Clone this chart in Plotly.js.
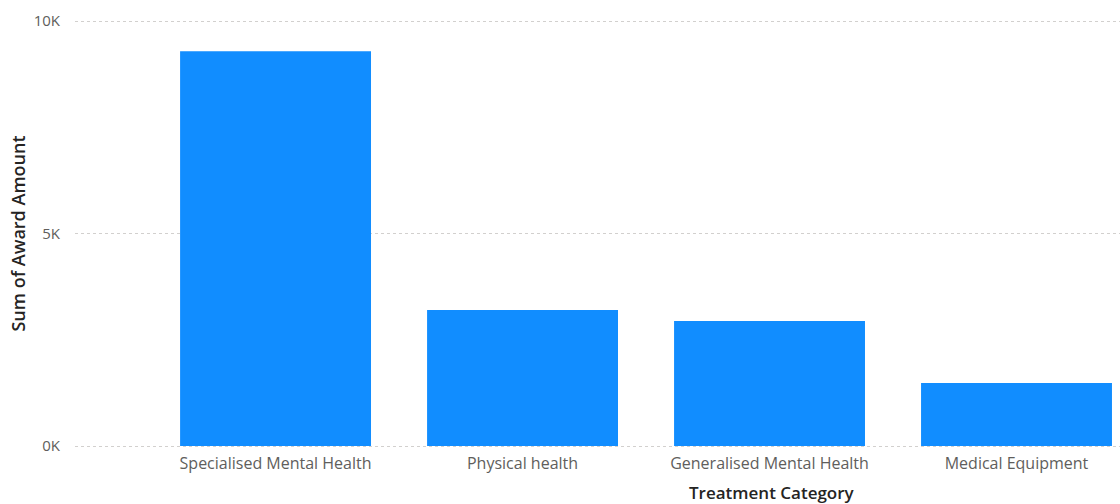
<!DOCTYPE html>
<html><head><meta charset="utf-8">
<script src="https://cdn.plot.ly/plotly-3.0.1.min.js"></script>
<style>html,body{margin:0;padding:0;background:#fff}#c{width:1120px;height:504px}</style>
</head><body><div id="c"></div>
<script>
const categories = ["Specialised Mental Health", "Physical health", "Generalised Mental Health", "Medical Equipment"];
const awardAmounts = [9290, 3200, 2940, 1480];
const yTickVals = [0, 5000, 10000];
const yTickText = ["0K", "5K", "10K"];

const trace = {
  type: 'bar', x: categories, y: awardAmounts,
  marker: {color: '#118DFF'}, hoverinfo: 'x+y'
};
const layout = {
  width: 1120, height: 504,
  margin: {l: 75, r: 0, t: 19, b: 56},
  paper_bgcolor: '#fff', plot_bgcolor: '#fff',
  bargap: 0.227,
  showlegend: false,
  font: {family: 'Open Sans, sans-serif', color: '#605E5C'},
  xaxis: {
    type: 'category', range: [-0.812, 3.419],
    showgrid: false, zeroline: false, showline: false, ticks: '',
    tickfont: {size: 16, color: '#605E5C'}, ticklabelstandoff: 4
  },
  yaxis: {
    range: [-47, 10047], tickvals: yTickVals, ticktext: yTickText,
    showgrid: true, gridcolor: '#D2D0CE', griddash: 'dot', gridwidth: 1,
    zeroline: false, showline: false, ticks: '',
    tickfont: {size: 15, color: '#605E5C'}, ticklabelstandoff: 14,
    title: {text: 'Sum of Award Amount', font: {size: 18, weight: 600, color: '#252423', family: 'Open Sans, sans-serif'}, standoff: 3}
  },
  annotations: [{
    text: 'Treatment Category', xref: 'paper', yref: 'paper',
    x: (772 - 75) / 1045, y: 0, xanchor: 'center', yanchor: 'middle', yshift: -44,
    showarrow: false, font: {size: 17, weight: 600, color: '#252423', family: 'Open Sans, sans-serif'}
  }]
};
Plotly.newPlot('c', [trace], layout, {displayModeBar: false, staticPlot: true});
</script></body></html>
